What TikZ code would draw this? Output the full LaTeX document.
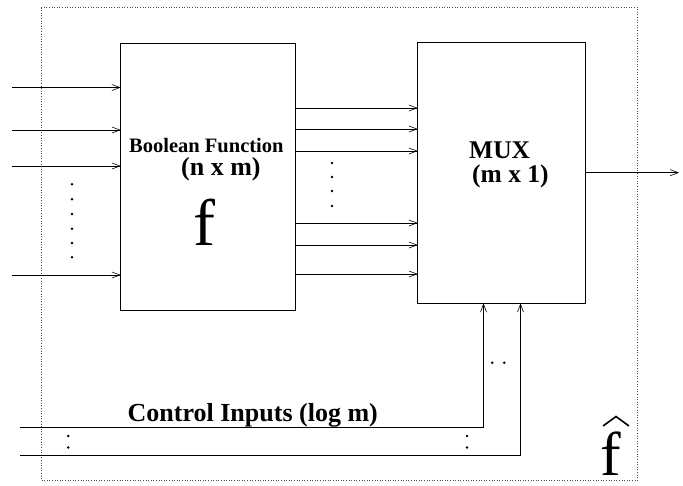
\documentclass[tikz,border=0pt]{standalone}
\usepackage{fontspec}
\setmainfont{Liberation Serif}
\usetikzlibrary{arrows.meta}
\begin{document}
\begin{tikzpicture}[x=1pt,y=-1pt,
  blockbox/.style={draw, line width=0.8pt, inner sep=0pt, outer sep=0pt},
  arr/.style={-{Straight Barb[length=8pt,width=6pt]}, line width=0.6pt},
  dotmark/.style={circle, fill, inner sep=0pt, minimum size=2.8pt},
  lbl/.style={inner sep=0pt, anchor=base west},
  frame/.style={dotted, line width=0.6pt, black!70},
  hatmark/.style={line width=1.6pt, line join=miter, line cap=butt}]
\useasboundingbox (0,0) rectangle (683,485);
% outer dotted frame
\draw[frame] (41,7.5) rectangle (637.5,480);
% blocks
\node[blockbox, minimum width=174.5pt, minimum height=267.5pt] (bf) at (208,177) {};
\node[blockbox, minimum width=167.5pt, minimum height=260.5pt] (mux) at (501.5,173) {};
% labels
\node[lbl, font=\bfseries\fontsize{20.5}{20.5}\selectfont] (bft) at (129,152.7) {Boolean Function};
\node[lbl, font=\bfseries\fontsize{26}{26}\selectfont] (bfd) at (181,175) {(n x m)};
\node[lbl, font=\fontsize{66}{66}\selectfont] (bff) at (193,245) {f};
\node[lbl, font=\bfseries\fontsize{25.5}{25.5}\selectfont] (muxt) at (469,158) {MUX};
\node[lbl, font=\bfseries\fontsize{25.5}{25.5}\selectfont] (muxd) at (472,182) {(m x 1)};
\node[lbl, font=\bfseries\fontsize{26}{26}\selectfont] (ctl) at (127.5,421.7) {Control Inputs (log m)};
\node[lbl, font=\fontsize{62}{62}\selectfont] (fhat) at (600,475) {f};
\draw[hatmark] (603,426) -- (616,416.5) -- (629,426);
% inputs to boolean function
\foreach \y/\n in {87.5/1,130/2,166/3,275/4} {
  \coordinate (in\n) at (12,\y);
  \draw[arr] (in\n) -- (in\n -| bf.west);
}
\foreach \y in {184.3,199.3,214,228.7,243,257.3} \node[dotmark] at (72,\y) {};
% boolean function to mux
\foreach \y/\n in {108/1,129/2,151/3,223/4,245/5,274/6} {
  \coordinate (m\n) at (300,\y);
  \draw[arr] (m\n -| bf.east) -- (m\n -| mux.west);
}
\foreach \y in {163,177,191,206} \node[dotmark] at (332,\y) {};
% output
\coordinate (out) at (679,172.7);
\draw[arr] (out -| mux.east) -- (out);
% control inputs
\coordinate (c1) at (20,427);
\coordinate (k1) at (483.5,427);
\coordinate (c2) at (20,455.3);
\coordinate (k2) at (520.5,455.3);
\draw[arr] (c1) -- (k1) -- (k1 |- mux.south);
\draw[arr] (c2) -- (k2) -- (k2 |- mux.south);
\foreach \x in {492.3,504.3} \node[dotmark] at (\x,362.7) {};
\foreach \y in {436,447.5} {
  \node[dotmark] at (68.3,\y) {};
  \node[dotmark] at (467,\y) {};
}
\end{tikzpicture}
\end{document}
